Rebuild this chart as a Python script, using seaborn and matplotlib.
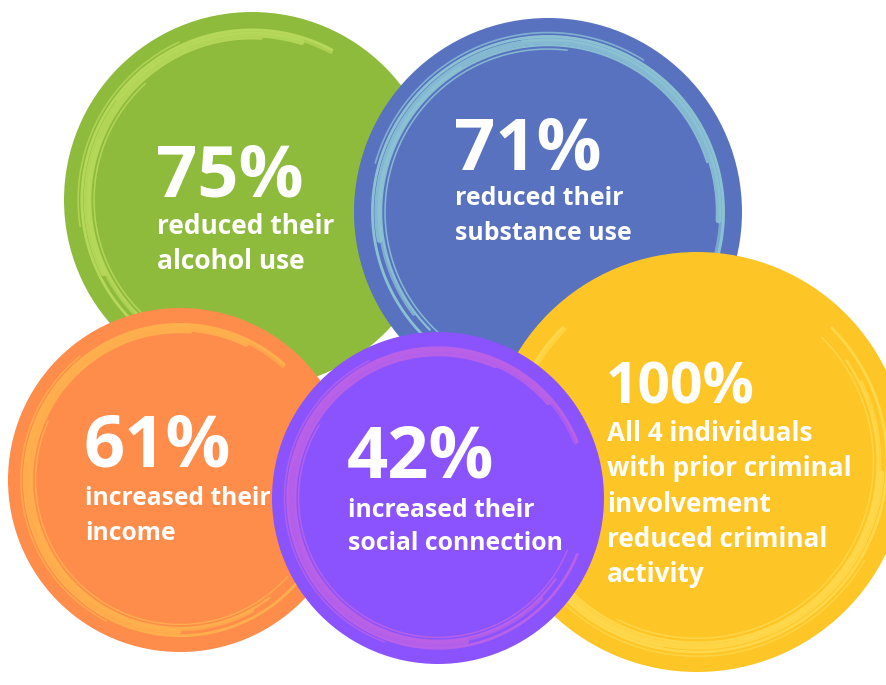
import numpy as np
import matplotlib
matplotlib.use("Agg")
import matplotlib.pyplot as plt
from matplotlib.patches import Circle
import seaborn as sns

# Outcome figures shown in the five bubbles
metrics = ["alcohol", "substance", "income", "criminal", "social"]
headline = ["75%", "71%", "61%", "100%", "42%"]
captions = [
    "reduced their\nalcohol use",
    "reduced their\nsubstance use",
    "increased their\nincome",
    "All 4 individuals\nwith prior criminal\ninvolvement\nreduced criminal\nactivity",
    "increased their\nsocial connection",
]

# Bubble fills and the lighter brush-ring tints
fill_colors = ["#8FBB3D", "#5872C0", "#FE8C4A", "#FEC526", "#8B53FD"]
ring_colors = ["#B9DA5C", "#8EC6D5", "#FFB24E", "#FFD94E", "#BC62E6"]

# Layout in pixel units: circle centre/radius, text anchor, type sizes
centers = [(252, 200), (548, 212), (180, 480), (697, 462), (438, 498)]
radii = [188, 194, 172, 210, 166]
text_left = [156, 454, 84, 606, 347]
head_baseline = [196, 169, 466, 403, 477]
head_size = [52, 52, 52, 41, 52]
caption_first_baseline = [234, 205, 505, 441, 517]
caption_size = [19, 17.9, 17.7, 18.8, 17.8]
line_step = [35, 35, 35, 35.3, 33.5]

# Visual angular span (deg, counter-clockwise from east) of each brush ring
ring_span = [(62, 238), (-18, 235), (48, 318), (-225, 45), (22, 338)]

# Brush-stroke recipe: radius fraction, start/end fraction of span, width, alpha
strokes = [
    (0.905, 0.00, 1.00, 2.0, 0.95),
    (0.880, 0.06, 0.82, 4.2, 0.85),
    (0.860, 0.14, 0.96, 1.6, 0.90),
    (0.925, 0.30, 0.72, 1.2, 0.75),
    (0.840, 0.40, 1.00, 1.1, 0.85),
    (0.893, 0.00, 0.46, 3.0, 0.65),
    (0.870, 0.55, 0.93, 2.4, 0.70),
]

sns.set_theme(style="white")
plt.rcParams["font.family"] = ["Open Sans", "DejaVu Sans"]

fig = plt.figure(figsize=(8.87, 6.85), dpi=100)
ax = fig.add_axes([0, 0, 1, 1])
ax.set_xlim(0, 887)
ax.set_ylim(685, 0)
ax.axis("off")
fig.patch.set_facecolor("white")

for i, key in enumerate(metrics):
    cx, cy = centers[i]
    r = radii[i]
    z = 2 + i * 3
    ax.add_patch(Circle((cx, cy), r, facecolor=fill_colors[i],
                        edgecolor="none", zorder=z))

    # brush rings, drawn on screen with y pointing down
    a0, a1 = ring_span[i]
    for rf, s0, s1, lw, al in strokes:
        phi = np.radians(np.linspace(a0 + (a1 - a0) * s0,
                                     a0 + (a1 - a0) * s1, 200))
        ax.plot(cx + rf * r * np.cos(phi), cy - rf * r * np.sin(phi),
                color=ring_colors[i], lw=lw, alpha=al,
                solid_capstyle="round", zorder=z + 0.5)

    ax.text(text_left[i], head_baseline[i], headline[i], color="white",
            fontsize=head_size[i], fontweight="bold", ha="left",
            va="baseline", zorder=z + 1)
    for k, line in enumerate(captions[i].split("\n")):
        ax.text(text_left[i] + 1, caption_first_baseline[i] + k * line_step[i],
                line, color="white", fontsize=caption_size[i],
                fontweight="bold", ha="left", va="baseline", zorder=z + 1)

fig.savefig("out.png", dpi=100, facecolor="white")
